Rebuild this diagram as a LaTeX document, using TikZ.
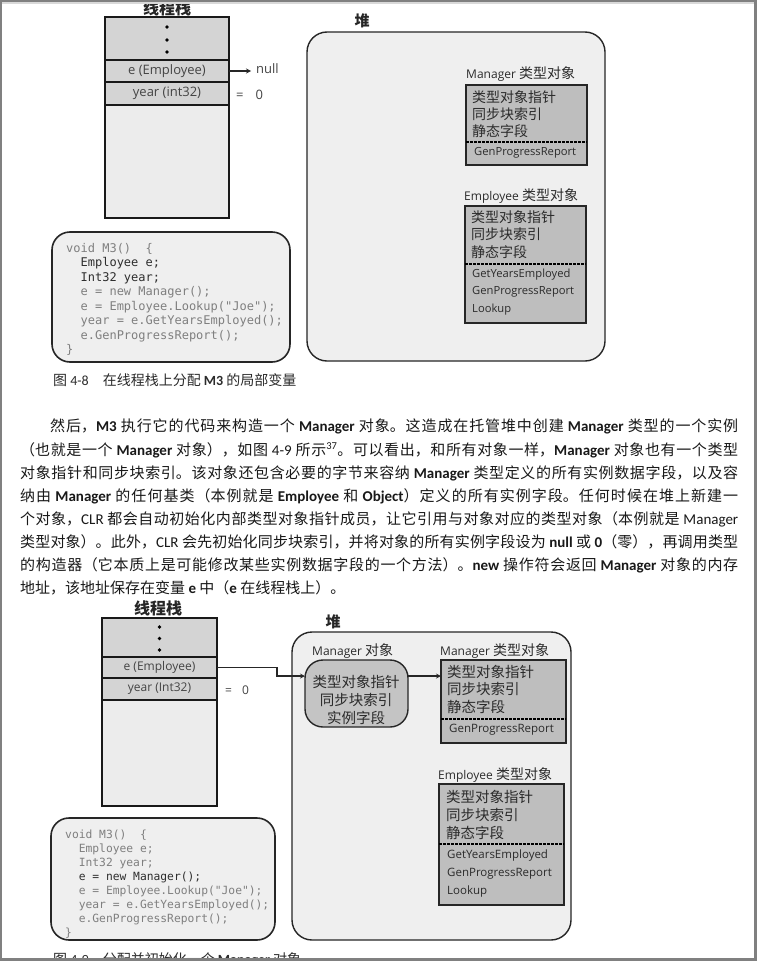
\documentclass[tikz,border=0pt]{standalone}
\usepackage{fontspec}
\setmainfont{Noto Sans CJK SC}
\setmonofont{DejaVu Sans Mono}
\newfontfamily\calib{Carlito}
\newfontfamily\segoe{Open Sans}
\usetikzlibrary{positioning}
\XeTeXlinebreaklocale "zh"
\XeTeXlinebreakskip=0pt plus 2pt

\definecolor{cellgray}{HTML}{D4D4D4}
\definecolor{stacklight}{HTML}{ECECEC}
\definecolor{heapfill}{HTML}{EFEFEF}
\definecolor{typefill}{HTML}{BEBEBE}
\definecolor{objfill}{HTML}{C4C4C4}
\definecolor{textgray}{HTML}{444444}
\definecolor{textdark}{HTML}{2B2B2B}
\definecolor{codegray}{HTML}{7F7F7F}
\definecolor{codedark}{HTML}{2E2E2E}
\definecolor{framegray}{HTML}{808080}

\newcommand{\lat}[1]{{\calib #1}}
\newcommand{\latb}[1]{{\calib\bfseries #1}}
\newcommand{\seg}[1]{{\segoe\fontsize{12}{14}\selectfont #1}}
\newcommand{\cur}[1]{\textcolor{codedark}{#1}}
\newcommand{\ind}{\phantom{xx}}

\tikzset{
  cell/.style={draw=black!90, line width=1.5pt, fill=cellgray, inner sep=0pt,
    outer sep=0pt, text=textgray},
  heap/.style={draw=black!85, line width=1.4pt, fill=heapfill, rounded corners=20pt},
  codebox/.style={draw=black!85, line width=1.6pt, fill=heapfill, rounded corners=18pt},
  typebox/.style={draw=black!85, line width=1.4pt, fill=typefill, inner sep=0pt, outer sep=0pt},
  objbox/.style={draw=black!85, line width=1.4pt, fill=objfill, rounded corners=18pt,
    inner sep=0pt, outer sep=0pt},
  sep/.style={dashed, line width=1.2pt, dash pattern=on 2.5pt off 1.5pt},
  ptr/.style={->, line width=1.2pt, draw=black!85},
  head/.style={inner sep=0pt, text=black!85, font=\bfseries\fontsize{16}{18}\selectfont},
  lbl/.style={inner sep=0pt, text=textdark, font=\fontsize{14}{16}\selectfont},
  boxtext/.style={inner sep=0pt, align=left, text=textdark},
  methods/.style={inner sep=0pt, align=left, text=textdark},
  code/.style={inner sep=0pt, align=left, text=codegray},
  caption/.style={inner sep=0pt, text=textdark, font=\fontsize{14}{16}\selectfont},
  para/.style={inner sep=0pt, text width=718pt, align=justify, text=black!90,
    font=\fontsize{15}{23.15}\selectfont}
}

\begin{document}
\begin{tikzpicture}[x=1pt, y=-1pt, >=stealth]
  \useasboundingbox (0,0) rectangle (757,961);
  \fill[white] (0,0) rectangle (757,961);

  % ===== figure 4-8 =====
  % thread stack
  \node[head, anchor=base] (ts1) at (167,14) {线程栈};
  \node[cell, minimum width=124pt, minimum height=43pt, anchor=north] (dots1) at (167,17) {};
  \node[cell, minimum width=124pt, minimum height=22pt, below=0pt of dots1,
    font=\segoe\fontsize{13}{15}\selectfont] (e1) {e (Employee)};
  \node[cell, minimum width=124pt, minimum height=23pt, below=0pt of e1,
    font=\segoe\fontsize{13}{15}\selectfont] (yr1) {year (int32)};
  \node[cell, fill=stacklight, minimum width=124pt, minimum height=113pt, below=0pt of yr1] (rest1) {};
  \foreach \y in {27,40,52} \fill (167,\y) circle (1.8pt);

  % values of the locals
  \node[inner sep=0pt, anchor=base west, text=textgray, font=\segoe\fontsize{13}{15}\selectfont]
    (null1) at (256,73.5) {null};
  \draw[ptr] (e1.east) -- ([xshift=-5pt]e1.east -| null1.west);
  \node[inner sep=0pt, anchor=base west, text=textgray, font=\segoe\fontsize{13}{15}\selectfont]
    (zero1) at (236,99) {=\hspace{12pt}0};

  % managed heap
  \node[head, anchor=base, font=\bfseries\fontsize{15}{17}\selectfont] (hp1) at (362,26) {堆};
  \draw[heap] (307,32) rectangle (605,361);

  % Manager type object
  \node[lbl, anchor=base west] (mt1l) at (466,78) {\seg{Manager} 类型对象};
  \node[typebox, minimum width=121pt, minimum height=80pt, anchor=north west] (mt1) at (466,85) {};
  \node[boxtext, anchor=north west, font=\fontsize{14}{17}\selectfont] (mt1t) at (472,89)
    {\rule{0pt}{13pt}类型对象指针\\同步块索引\\静态字段};
  \draw[sep] (mt1.west |- 0,142) -- (mt1.east |- 0,142);
  \node[methods, anchor=north west, font=\segoe\fontsize{11.2}{17.5}\selectfont] (mt1m) at (474,145)
    {\rule{0pt}{10pt}GenProgressReport};

  % Employee type object
  \node[lbl, anchor=base west] (et1l) at (464,200) {\seg{Employee} 类型对象};
  \node[typebox, minimum width=121pt, minimum height=117pt, anchor=north west] (et1) at (465,206) {};
  \node[boxtext, anchor=north west, font=\fontsize{14}{17.5}\selectfont] (et1t) at (471,209)
    {\rule{0pt}{13pt}类型对象指针\\同步块索引\\静态字段};
  \draw[sep] (et1.west |- 0,264) -- (et1.east |- 0,264);
  \node[methods, anchor=north west, font=\segoe\fontsize{11.2}{17.5}\selectfont] (et1m) at (472,267)
    {\rule{0pt}{10pt}GetYearsEmployed\\GenProgressReport\\Lookup};

  % source of M3
  \draw[codebox] (52,232) rectangle (290,362);
  \node[code, anchor=north west, font=\ttfamily\fontsize{12}{14.5}\selectfont] (src1) at (66,242) {%
    \rule{0pt}{10pt}void M3()\ \ \{\\
    \cur{\ind Employee e;}\\
    \cur{\ind Int32 year;}\\
    \ind e = new Manager();\\
    \ind e = Employee.Lookup("Joe");\\
    \ind year = e.GetYearsEmployed();\\
    \ind e.GenProgressReport();\\
    \}};

  \node[caption, anchor=base west] (cap1) at (53,385)
    {图 \lat{4-8}\hspace{1em}在线程栈上分配 \latb{M3} 的局部变量};

  % ===== body text =====
  \node[para, anchor=north west] (txt) at (20,417.7) {%
    \rule{0pt}{14pt}\hspace*{2em}然后，\latb{M3} 执行它的代码来构造一个 \latb{Manager} 对象。这造成在托管堆中创建 \latb{Manager} 类型的一个实例\linebreak
    （也就是一个 \latb{Manager} 对象），如图 \lat{4-9} 所示\textsuperscript{\lat{37}}。可以看出，和所有对象一样，\latb{Manager} 对象也有一个类型\linebreak
    对象指针和同步块索引。该对象还包含必要的字节来容纳 \latb{Manager} 类型定义的所有实例数据字段，以及容\linebreak
    纳由 \latb{Manager} 的任何基类（本例就是 \latb{Employee} 和 \latb{Object}）定义的所有实例字段。任何时候在堆上新建一\linebreak
    个对象，\lat{CLR} 都会自动初始化内部类型对象指针成员，让它引用与对象对应的类型对象（本例就是 \lat{Manager}\linebreak
    类型对象）。此外，\lat{CLR} 会先初始化同步块索引，并将对象的所有实例字段设为 \latb{null} 或 \latb{0}（零），再调用类型\linebreak
    的构造器（它本质上是可能修改某些实例数据字段的一个方法）。\latb{new} 操作符会返回 \latb{Manager} 对象的内存\linebreak
    地址，该地址保存在变量 \latb{e} 中（\latb{e} 在线程栈上）。};

  % ===== figure 4-9 =====
  % thread stack
  \node[head, anchor=base] (ts2) at (158,614) {线程栈};
  \node[cell, minimum width=115pt, minimum height=39pt, anchor=north] (dots2) at (159.5,618) {};
  \node[cell, minimum width=115pt, minimum height=21pt, below=0pt of dots2,
    font=\segoe\fontsize{12}{14}\selectfont] (e2) {e (Employee)};
  \node[cell, minimum width=115pt, minimum height=22pt, below=0pt of e2,
    font=\segoe\fontsize{12}{14}\selectfont] (yr2) {year (Int32)};
  \node[cell, fill=stacklight, minimum width=115pt, minimum height=106pt, below=0pt of yr2] (rest2) {};
  \foreach \y in {627,638.5,650} \fill (159.5,\y) circle (1.8pt);

  \node[inner sep=0pt, anchor=base west, text=textgray, font=\segoe\fontsize{12}{14}\selectfont]
    (zero2) at (225,694) {=\hspace{10pt}0};

  % managed heap
  \node[head, anchor=base, font=\bfseries\fontsize{15}{17}\selectfont] (hp2) at (333,627) {堆};
  \draw[heap] (292,632) rectangle (571,940);

  % the new Manager object
  \node[lbl, anchor=base west] (mol) at (312,655) {\seg{Manager} 对象};
  \node[objbox, minimum width=103pt, minimum height=67pt] (mo) at (356.5,693.5) {};
  \node[boxtext, align=center, font=\fontsize{14.5}{18}\selectfont] (mot) at (356,700)
    {类型对象指针\\同步块索引\\实例字段};

  % Manager type object
  \node[lbl, anchor=base west] (mt2l) at (440,655) {\seg{Manager} 类型对象};
  \node[typebox, minimum width=125pt, minimum height=83pt, anchor=north west] (mt2) at (441,660) {};
  \node[boxtext, anchor=north west, font=\fontsize{14.5}{17.5}\selectfont] (mt2t) at (447,664)
    {\rule{0pt}{13pt}类型对象指针\\同步块索引\\静态字段};
  \draw[sep] (mt2.west |- 0,719) -- (mt2.east |- 0,719);
  \node[methods, anchor=north west, font=\segoe\fontsize{11.5}{18}\selectfont] (mt2m) at (449,722)
    {\rule{0pt}{10pt}GenProgressReport};

  % Employee type object
  \node[lbl, anchor=base west] (et2l) at (438,779) {\seg{Employee} 类型对象};
  \node[typebox, minimum width=125pt, minimum height=121pt, anchor=north west] (et2) at (439,784) {};
  \node[boxtext, anchor=north west, font=\fontsize{14.5}{18}\selectfont] (et2t) at (446,789)
    {\rule{0pt}{13pt}类型对象指针\\同步块索引\\静态字段};
  \draw[sep] (et2.west |- 0,844) -- (et2.east |- 0,844);
  \node[methods, anchor=north west, font=\segoe\fontsize{11.5}{18}\selectfont] (et2m) at (447,848)
    {\rule{0pt}{10pt}GetYearsEmployed\\GenProgressReport\\Lookup};

  % references
  \coordinate (bend) at (277,676);
  \draw[ptr] (e2.east) -| (bend) -- (bend -| mo.west);
  \draw[ptr] (mo.east |- bend) -- (mt2.west |- bend);

  % source of M3
  \draw[codebox] (51,818) rectangle (275,940);
  \node[code, anchor=north west, font=\ttfamily\fontsize{11.3}{14}\selectfont] (src2) at (65,828) {%
    \rule{0pt}{10pt}void M3()\ \ \{\\
    \ind Employee e;\\
    \ind Int32 year;\\
    \cur{\ind e = new Manager();}\\
    \ind e = Employee.Lookup("Joe");\\
    \ind year = e.GetYearsEmployed();\\
    \ind e.GenProgressReport();\\
    \}};

  \node[caption, anchor=base west] (cap2) at (53,964)
    {图 \lat{4-9}\hspace{1em}分配并初始化一个 \latb{Manager} 对象};

  % page frame
  \fill[framegray] (0,0) rectangle (757,1.5);
  \fill[black!15] (0,1.5) rectangle (757,4);
  \fill[framegray] (0,0) rectangle (1.5,961);
  \fill[framegray] (754,0) rectangle (757,961);
  \fill[framegray] (0,958) rectangle (757,961);
\end{tikzpicture}
\end{document}
